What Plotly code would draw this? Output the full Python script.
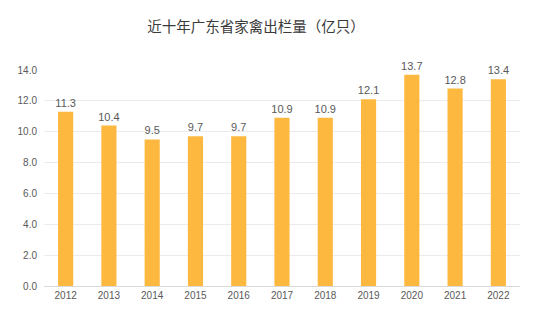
import plotly.graph_objects as go

years = ["2012", "2013", "2014", "2015", "2016", "2017", "2018", "2019", "2020", "2021", "2022"]
values = [11.3, 10.4, 9.5, 9.7, 9.7, 10.9, 10.9, 12.1, 13.7, 12.8, 13.4]
y_ticks = [0, 2, 4, 6, 8, 10, 12, 14]
y_tick_text = ["0.0", "2.0", "4.0", "6.0", "8.0", "10.0", "12.0", "14.0"]

fig = go.Figure(
    go.Bar(
        x=years,
        y=values,
        marker=dict(color="#FDB83F", line=dict(width=0)),
        width=0.35,
        text=[f"{v:.1f}" for v in values],
        textposition="outside",
        constraintext="none",
        textfont=dict(size=11, color="#595959", family="Liberation Sans, Arial, sans-serif"),
        cliponaxis=False,
    )
)

fig.update_layout(
    width=554,
    height=329,
    margin=dict(l=44, r=34, t=70, b=43),
    paper_bgcolor="white",
    plot_bgcolor="white",
    showlegend=False,
    title=dict(
        text="近十年广东省家禽出栏量（亿只）",
        x=0.462,
        xanchor="center",
        y=0.918,
        yanchor="middle",
        font=dict(size=14.5, color="#3A3A3A", family="Noto Sans CJK SC"),
    ),
    font=dict(family="Liberation Sans, Arial, sans-serif", color="#595959", size=10),
)

fig.update_xaxes(
    type="category",
    showgrid=False,
    showline=True,
    linecolor="#D9D9D9",
    linewidth=1,
    ticks="",
    tickfont=dict(size=10, color="#595959"),
)
fig.update_yaxes(
    range=[0, 14],
    tickvals=y_ticks,
    ticktext=y_tick_text,
    showgrid=True,
    gridcolor="#EBEBEB",
    gridwidth=1,
    zeroline=False,
    showline=False,
    ticks="",
    ticklabelstandoff=6,
    tickfont=dict(size=10, color="#595959"),
)

fig.write_html("out.html")
